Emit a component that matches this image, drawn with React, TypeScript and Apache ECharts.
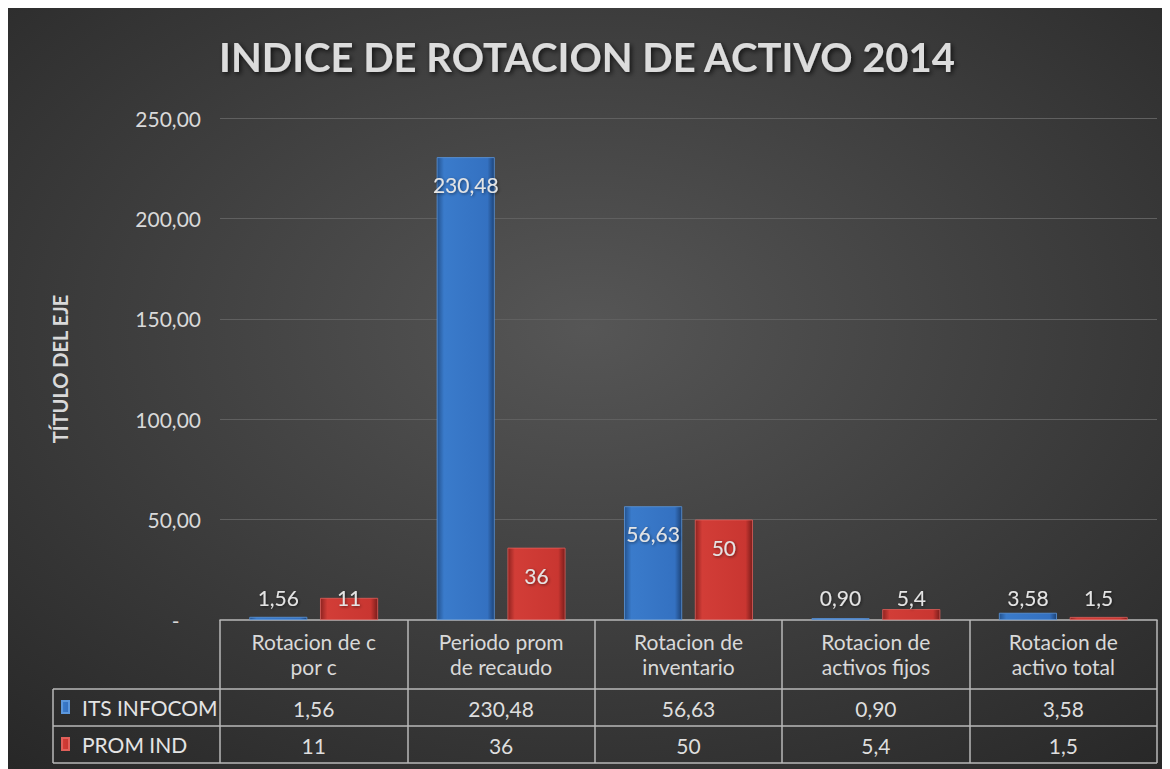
import React, { useEffect, useRef } from "react";
import * as echarts from "echarts";

const titleText = "INDICE DE ROTACION DE ACTIVO 2014";
const yAxisName = "TÍTULO DEL EJE";
const categories = [
  "Rotacion de c\npor c",
  "Periodo prom\nde recaudo",
  "Rotacion de\ninventario",
  "Rotacion de\nactivos fijos",
  "Rotacion de\nactivo total",
];
const seriesNames = ["ITS INFOCOM", "PROM IND"];
const itsValues = [1.56, 230.48, 56.63, 0.9, 3.58];
const promValues = [11, 36, 50, 5.4, 1.5];
const yMin = 0;
const yMax = 250;
const yInterval = 50;

const FONT = "Lato, 'Open Sans', sans-serif";

const fmtIts = (v: number) => v.toFixed(2).replace(".", ",");
const fmtProm = (v: number) => String(v).replace(".", ",");

const blueGrad = new echarts.graphic.LinearGradient(0, 0, 1, 0, [
  { offset: 0, color: "#24538f" },
  { offset: 0.12, color: "#3a7bcb" },
  { offset: 0.88, color: "#3471c1" },
  { offset: 1, color: "#1d4377" },
]);
const redGrad = new echarts.graphic.LinearGradient(0, 0, 1, 0, [
  { offset: 0, color: "#8e2320" },
  { offset: 0.12, color: "#d23d37" },
  { offset: 0.88, color: "#c93631" },
  { offset: 1, color: "#7a1d1b" },
]);

const labelFor = (v: number, text: string) =>
  v >= 20
    ? { show: true, position: "insideTop", distance: 17, formatter: text }
    : { show: true, position: "insideBottom", distance: 12, formatter: text };

export default function App() {
  const ref = useRef<HTMLDivElement>(null);
  useEffect(() => {
    if (!ref.current) return;
    const chart = echarts.init(ref.current, null, { renderer: "svg" });
    const labelStyle = {
      color: "#e4e4e4",
      fontSize: 21,
      fontFamily: FONT,
      textShadowColor: "rgba(0,0,0,0.5)",
      textShadowBlur: 3,
      textShadowOffsetX: 1,
      textShadowOffsetY: 1,
    };
    const lineColor = "#b8b8b8";
    const tableLeft = 45;
    const tableRight = 1149;
    const rowLines = [681, 718, 755];
    chart.setOption({
      animation: false,
      backgroundColor: {
        type: "radial",
        x: 0.5,
        y: 0.42,
        r: 0.85,
        colorStops: [
          { offset: 0, color: "#565656" },
          { offset: 1, color: "#222222" },
        ],
      },
      title: {
        text: titleText,
        left: 574,
        textAlign: "center",
        top: 24,
        textStyle: {
          color: "#dcdcdc",
          fontSize: 40,
          fontWeight: "bold",
          fontFamily: FONT,
          textShadowColor: "rgba(0,0,0,0.7)",
          textShadowBlur: 5,
          textShadowOffsetX: 2,
          textShadowOffsetY: 2,
        },
      },
      legend: {
        orient: "vertical",
        left: 53,
        top: 687,
        padding: 0,
        itemGap: 13,
        itemWidth: 7,
        itemHeight: 12,
        icon: "rect",
        data: seriesNames,
        textStyle: { color: "#e4e4e4", fontSize: 21, fontFamily: FONT, lineHeight: 24, padding: [0, 0, 0, 8] },
      },
      grid: { left: 212, right: 11, top: 110, bottom: 149, containLabel: false },
      xAxis: [
        {
          type: "category",
          data: categories,
          axisLine: { show: true, lineStyle: { color: lineColor, width: 1.5 } },
          axisTick: { show: true, length: 143, lineStyle: { color: lineColor, width: 1.5 } },
          axisLabel: { color: "#d9d9d9", fontSize: 21, lineHeight: 25, margin: 9, fontFamily: FONT },
          splitLine: { show: false },
        },
        {
          type: "category",
          data: itsValues.map(fmtIts),
          position: "bottom",
          offset: 76,
          axisLine: { show: false },
          axisTick: { show: false },
          axisLabel: { color: "#dedede", fontSize: 21, lineHeight: 24, margin: 0, fontFamily: FONT },
        },
        {
          type: "category",
          data: promValues.map(fmtProm),
          position: "bottom",
          offset: 113,
          axisLine: { show: false },
          axisTick: { show: false },
          axisLabel: { color: "#dedede", fontSize: 21, lineHeight: 24, margin: 0, fontFamily: FONT },
        },
      ],
      yAxis: {
        type: "value",
        min: yMin,
        max: yMax,
        interval: yInterval,
        name: yAxisName,
        nameLocation: "middle",
        nameGap: 150,
        nameTextStyle: { color: "#d9d9d9", fontSize: 20, fontWeight: "bold", fontFamily: FONT },
        axisLine: { show: false },
        axisTick: { show: false },
        axisLabel: {
          color: "#d9d9d9",
          fontSize: 21,
          margin: 19,
          fontFamily: FONT,
          formatter: (v: number) => (v === 0 ? "-    " : v.toFixed(2).replace(".", ",")),
        },
        splitLine: {
          show: true,
          lineStyle: { color: "#606060", width: 1.2 },
          showMinLine: false,
        },
      },
      graphic: [
        ...rowLines.map((y) => ({
          type: "line",
          shape: { x1: tableLeft, y1: y, x2: tableRight, y2: y },
          style: { stroke: lineColor, lineWidth: 1.5 },
        })),
        {
          type: "line",
          shape: { x1: tableLeft, y1: rowLines[0], x2: tableLeft, y2: rowLines[2] },
          style: { stroke: lineColor, lineWidth: 1.5 },
        },
      ],
      series: [
        {
          name: seriesNames[0],
          type: "bar",
          barWidth: 58,
          barGap: "22%",
          itemStyle: { color: blueGrad, borderColor: "#5c97dc", borderWidth: 0.8 },
          label: labelStyle,
          data: itsValues.map((v) => ({ value: v, label: labelFor(v, fmtIts(v)) })),
        },
        {
          name: seriesNames[1],
          type: "bar",
          barWidth: 58,
          barGap: "22%",
          itemStyle: { color: redGrad, borderColor: "#e0605a", borderWidth: 0.8 },
          label: labelStyle,
          data: promValues.map((v) => ({ value: v, label: labelFor(v, fmtProm(v)) })),
        },
      ],
    });
    return () => chart.dispose();
  }, []);
  return <div ref={ref} style={{ width: 1160, height: 761 }} />;
}
